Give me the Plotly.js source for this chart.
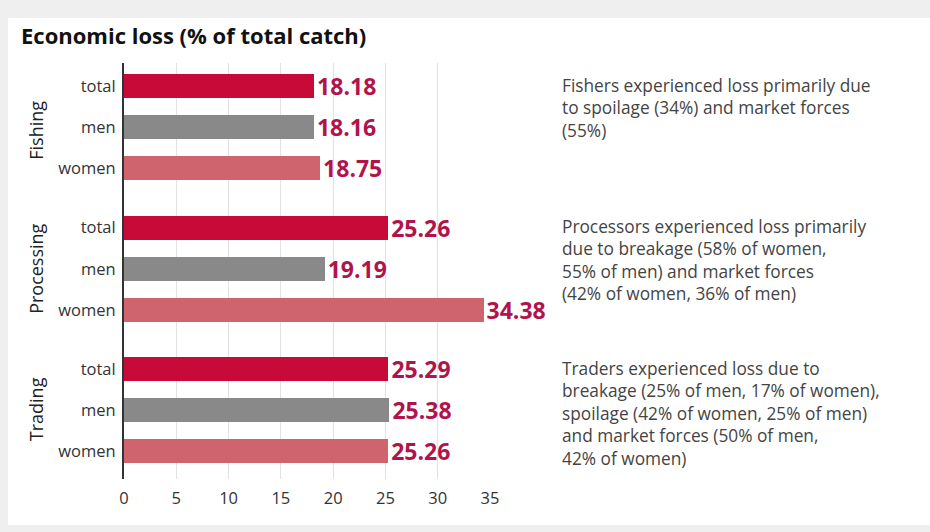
<!DOCTYPE html>
<html>
<head>
<meta charset="utf-8">
<script src="https://cdn.plot.ly/plotly-3.0.1.min.js"></script>
<style>
  html, body { margin: 0; padding: 0; background: #efefef; }
  #chart { width: 930px; height: 532px; }
</style>
</head>
<body>
<div id="chart"></div>
<script>
// ---- Data ----
const groups = ['Fishing', 'Processing', 'Trading'];
const roles = ['total', 'men', 'women'];
const fishing = [18.18, 18.16, 18.75];
const processing = [25.26, 19.19, 34.38];
const trading = [25.29, 25.38, 25.26];
const xTicks = [0, 5, 10, 15, 20, 25, 30, 35];
const notes = [
  'Fishers experienced loss primarily due<br>to spoilage (34%) and market forces<br>(55%)',
  'Processors experienced loss primarily<br>due to breakage (58% of women,<br>55% of men) and market forces<br>(42% of women, 36% of men)',
  'Traders experienced loss due to<br>breakage (25% of men, 17% of women),<br>spoilage (42% of women, 25% of men)<br>and market forces (50% of men,<br>42% of women)'
];

// ---- Styles ----
const roleColors = ['#c70a38', '#898989', '#cf636e'];
const FONT = 'Open Sans, Noto Sans, DejaVu Sans, sans-serif';
const seriesValues = [fishing, processing, trading];
const yNames = ['y', 'y2', 'y3'];

const traces = groups.map((g, i) => ({
  type: 'bar',
  orientation: 'h',
  name: g,
  x: seriesValues[i],
  y: roles,
  xaxis: 'x',
  yaxis: yNames[i],
  width: 0.585,
  marker: { color: roleColors, line: { width: 0 } },
  text: seriesValues[i].map(v => v.toFixed(2)),
  textposition: 'outside',
  textfont: { family: FONT, size: 23, color: '#b1134b', weight: 700 },
  constraintext: 'none',
  cliponaxis: false,
  hoverinfo: 'x+y'
}));

const yBase = {
  type: 'category',
  categoryorder: 'array',
  categoryarray: roles,
  showgrid: false,
  zeroline: false,
  showline: true,
  linecolor: '#333333',
  linewidth: 2,
  ticks: '',
  ticklabelstandoff: 3,
  tickfont: { family: FONT, size: 16.5, color: '#333333' },
  anchor: 'x',
  fixedrange: true
};

function yAxis(title, domain, range) {
  return Object.assign({}, yBase, {
    domain: domain,
    range: range,
    title: { text: title, font: { family: FONT, size: 18, color: '#222222' }, standoff: 10 }
  });
}

const layout = {
  width: 930,
  height: 532,
  margin: { l: 124, r: 440, t: 63, b: 53 },
  paper_bgcolor: '#efefef',
  plot_bgcolor: '#ffffff',
  showlegend: false,
  bargap: 0,
  title: {
    text: 'Economic loss (% of total catch)',
    font: { family: FONT, size: 22, color: '#111111', weight: 700 },
    x: 0.0226, xanchor: 'left', xref: 'container',
    y: 0.932, yanchor: 'middle', yref: 'container'
  },
  xaxis: {
    range: [0, 35],
    tickvals: xTicks,
    ticktext: xTicks.map(String),
    showgrid: true,
    gridcolor: '#e2e2e2',
    gridwidth: 1,
    zeroline: false,
    showline: false,
    ticks: '',
    ticklabelstandoff: 7,
    tickfont: { family: FONT, size: 16.5, color: '#333333' },
    anchor: 'y3',
    fixedrange: true
  },
  yaxis: yAxis(groups[0], [0.6761, 1], [2.726, -0.561]),
  yaxis2: yAxis(groups[1], [0.3347, 0.6761], [2.726, -0.726]),
  yaxis3: yAxis(groups[2], [0, 0.3347], [2.683, -0.726]),
  shapes: [{
    type: 'rect', xref: 'paper', yref: 'paper', layer: 'below',
    x0: -0.3169, x1: 2.202, y0: -0.1106, y1: 1.1082,
    fillcolor: '#ffffff', line: { width: 0 }
  }],
  annotations: notes.map((t, i) => ({
    text: t,
    xref: 'paper', x: 1.191, xanchor: 'left',
    yref: yNames[i], y: roles[0], yanchor: 'top', yshift: 14.5,
    align: 'left',
    showarrow: false,
    font: { family: FONT, size: 17.3, color: '#444444' }
  }))
};

Plotly.newPlot('chart', traces, layout, { displayModeBar: false, staticPlot: true });
</script>
</body>
</html>
